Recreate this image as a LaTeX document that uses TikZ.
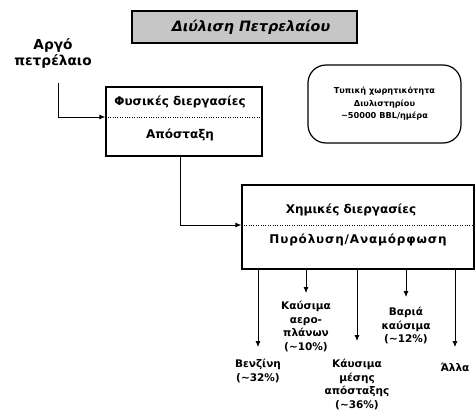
\documentclass[tikz,border=0pt]{standalone}
\usepackage{fontspec}
\setmainfont{DejaVu Sans}
\usetikzlibrary{arrows.meta,shadows}

\begin{document}
\begin{tikzpicture}
  [x=1pt,y=-1pt,font=\bfseries,
   box/.style={draw,fill=white,line width=1.3pt,inner sep=0pt,
     general shadow={fill=black,shadow xshift=1pt,shadow yshift=-1pt}},
   arr/.style={-{Latex[length=6pt,width=5pt]},line width=0.8pt},
   boxtxt/.style={font=\bfseries\fontsize{12}{14}\selectfont},
   prod/.style={align=center,anchor=north,inner sep=1pt,
     font=\bfseries\fontsize{10.5}{13.5}\selectfont}]
  \useasboundingbox (0,0) rectangle (475,410);

  % title and capacity note
  \node[box,fill=gray!45,minimum width=225,minimum height=32] (title) at (244.5,27) {};
  \node[font=\bfseries\itshape\fontsize{14.3}{16}\selectfont] (titletxt) at (251,27) {Διύλιση Πετρελαίου};
  \node[draw,line width=1.2pt,rounded corners=18pt,minimum width=153,minimum height=78,
    align=center,font=\bfseries\fontsize{8.2}{12.5}\selectfont] (cap) at (384.5,104)
    {Τυπική χωρητικότητα\\Διυλιστηρίου\\\textasciitilde50000 BBL/ημέρα};

  % crude oil in
  \node[align=center,font=\bfseries\fontsize{13.7}{16}\selectfont] (crude) at (53,53) {Αργό\\πετρέλαιο};
  \coordinate (cin) at (58,83);

  % physical processes
  \node[box,minimum width=156,minimum height=69] (phys) at (184,121.5) {};
  \node[boxtxt] (phys1) at (180,102) {Φυσικές διεργασίες};
  \node[boxtxt] (phys2) at (180,135) {Απόσταξη};
  \draw[dotted] ([yshift=4.5pt]phys.west) -- ([yshift=4.5pt]phys.east);

  % chemical processes
  \node[box,minimum width=232,minimum height=84] (chem) at (358,227) {};
  \node[boxtxt] (chem1) at (351,210) {Χημικές διεργασίες};
  \node[boxtxt] (chem2) at (358,240) {\addfontfeature{LetterSpace=7}Πυρόλυση/Αναμόρφωση};
  \draw[dotted] ([yshift=2pt]chem.west) -- ([yshift=2pt]chem.east);

  \draw[arr] (cin) |- ([yshift=4.5pt]phys.west);
  \draw[arr] ([xshift=-4pt]phys.south) |- ([yshift=2pt]chem.west);

  % products
  \node[prod] (benz) at (258,358) {Βενζίνη\\(\textasciitilde32\%)};
  \node[prod] (jet) at (306,300) {Καύσιμα\\αερο-\\πλάνων\\(\textasciitilde10\%)};
  \node[prod] (mid) at (357,358) {Κάυσιμα\\μέσης\\απόσταξης\\(\textasciitilde36\%)};
  \node[prod] (heavy) at (406,306) {Βαριά\\καύσιμα\\(\textasciitilde12\%)};
  \node[prod] (other) at (455,362) {Άλλα};

  \foreach \p/\g in {benz/11,jet/7,mid/17,heavy/9,other/15}
    \draw[arr,shorten >=\g pt] (chem.south -| \p.north) -- (\p.north);
\end{tikzpicture}
\end{document}
